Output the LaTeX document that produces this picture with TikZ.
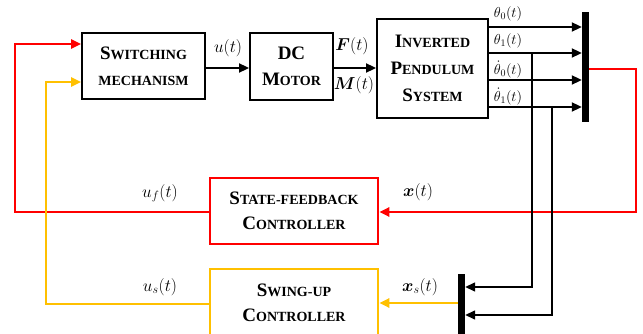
\documentclass[tikz,border=0pt]{standalone}
\usepackage{fontspec}
\usepackage{amsmath,bm}
\setmainfont{Liberation Serif}
\usetikzlibrary{arrows.meta}
\definecolor{myred}{RGB}{255,0,0}
\definecolor{myyel}{RGB}{255,192,0}
\newcommand{\BL}[1]{{\fontsize{19}{26}\selectfont #1}}
\newcommand{\SL}[1]{{\fontsize{14}{26}\selectfont #1}}
\tikzset{
  blk/.style={draw=black, line width=1.9pt, font=\fontsize{14}{26}\selectfont\bfseries, align=center, inner sep=0pt},
  redblk/.style={blk, draw=myred, line width=2.6pt},
  yelblk/.style={blk, draw=myyel, line width=2.6pt},
  barbox/.style={fill=black, draw=none, inner sep=0pt, minimum width=7pt},
  arr/.style={-{Triangle[length=10pt,width=9pt]}},
  bline/.style={line width=2pt, black},
  tap/.style={line width=1.5pt, black},
  rline/.style={line width=2.5pt, myred},
  yline/.style={line width=2.5pt, myyel},
  lab/.style={inner sep=0pt, font=\fontsize{18.5}{18.5}\selectfont},
  slab/.style={inner sep=0pt, font=\fontsize{14.5}{14.5}\selectfont},
}
\begin{document}
\begin{tikzpicture}[x=1pt,y=-1pt]
\useasboundingbox (0,0) rectangle (643,334);
\begin{scope}
\clip (0,0) rectangle (643,334);
% blocks
\node[blk, minimum width=123pt, minimum height=66pt] (sw) at (143.5,66)
  {\BL{S}\SL{WITCHING}\\ \SL{MECHANISM}};
\node[blk, minimum width=83pt, minimum height=67pt] (dc) at (291.5,66.5)
  {\BL{DC}\\ \BL{M}\SL{OTOR}};
\node[blk, font=\fontsize{14}{27}\selectfont\bfseries, minimum width=111pt, minimum height=99pt] (ip) at (432.5,68.5)
  {\BL{I}\SL{NVERTED}\\ \BL{P}\SL{ENDULUM}\\ \BL{S}\SL{YSTEM}};
\node[barbox, minimum height=110pt] (bar1) at (585.5,67) {};
\node[redblk, font=\fontsize{14}{25}\selectfont\bfseries, minimum width=168pt, minimum height=66pt] (sf) at (294,211)
  {\BL{S}\SL{TATE-FEEDBACK}\\ \BL{C}\SL{ONTROLLER}};
\node[yelblk, font=\fontsize{14}{25}\selectfont\bfseries, minimum width=168pt, minimum height=68pt] (su) at (294,303)
  {\BL{S}\SL{WING-UP}\\ \BL{C}\SL{ONTROLLER}};
\node[barbox, minimum height=68pt] (bar2) at (461.5,308) {};

% level coordinates
\coordinate (l1) at (0,27);
\coordinate (l2) at (0,53);
\coordinate (l3) at (0,80);
\coordinate (l4) at (0,107);
\coordinate (rA) at (636,69);
\coordinate (rB) at (636,212);
\coordinate (rC) at (15,212);
\coordinate (rD) at (15,44);
\coordinate (yC) at (46,304);
\coordinate (yD) at (46,82);
\coordinate (t1) at (532,53);
\coordinate (t1b) at (532,287);
\coordinate (t2) at (552,107);
\coordinate (t2b) at (552,315);

% forward path
\draw[bline, arr] (sw.east |- 0,68) -- (dc.west |- 0,68);
\draw[bline, arr] (dc.east |- 0,68) -- (ip.west |- 0,68);
\foreach \l in {l1,l2,l3,l4}
  \draw[bline, arr] (ip.east |- \l) -- (bar1.west |- \l);

% red feedback
\draw[rline, arr] (bar1.east |- rA) -- (rA) -- (rB) -- (sf.east |- rB);
\draw[rline, arr] (sf.west |- rC) -- (rC) -- (rD) -- (sw.west |- rD);

% yellow
\draw[yline, arr] (bar2.west |- 0,303) -- (su.east |- 0,303);
\draw[yline, arr] (su.west |- yC) -- (yC) -- (yD) -- (sw.west |- yD);

% taps
\draw[tap, arr] (t1) -- (t1b) -- (bar2.east |- t1b);
\draw[tap, arr] (t2) -- (t2b) -- (bar2.east |- t2b);

% labels
\node[lab] (lu) at (228,48) {$u(t)$};
\node[lab] (lF) at (352,46) {$\bm{F}(t)$};
\node[lab] (lM) at (354,85) {$\bm{M}(t)$};
\node[slab] (th0) at (508,14) {$\theta_0(t)$};
\node[slab] (th1) at (508,41) {$\theta_1(t)$};
\node[slab] (thd0) at (508,69.5) {$\dot\theta_0(t)$};
\node[slab] (thd1) at (508,96.5) {$\dot\theta_1(t)$};
\node[lab] (lx) at (418,192) {$\bm{x}(t)$};
\node[lab] (luf) at (160,193) {$u_f(t)$};
\node[lab] (lus) at (160,287) {$u_s(t)$};
\node[lab] (lxs) at (420,287) {$\bm{x}_s(t)$};
\end{scope}
\end{tikzpicture}
\end{document}
